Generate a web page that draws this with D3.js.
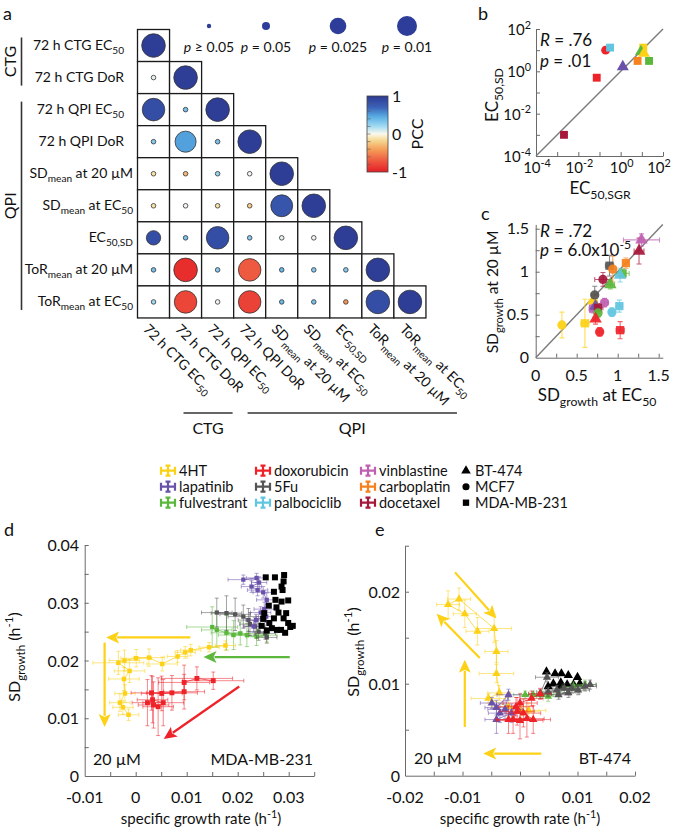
<!DOCTYPE html>
<html><head><meta charset="utf-8">
<script src="https://cdn.jsdelivr.net/npm/d3@7/dist/d3.min.js"></script>
<style>
body{margin:0;background:#fff}
svg{display:block}
text{font-family:Lato,"Open Sans",sans-serif;fill:#111}
</style></head>
<body><svg id="fig" width="675" height="834"></svg>
<script>
// ================= DATA =================
const matrixLabels = [
  [["72 h CTG EC",0],["50",1]],
  [["72 h CTG DoR",0]],
  [["72 h QPI EC",0],["50",1]],
  [["72 h QPI DoR",0]],
  [["SD",0],["mean",1],[" at 20 µM",0]],
  [["SD",0],["mean",1],[" at EC",0],["50",1]],
  [["EC",0],["50,SD",1]],
  [["ToR",0],["mean",1],[" at 20 µM",0]],
  [["ToR",0],["mean",1],[" at EC",0],["50",1]]
];
const matrixGroups = [["CTG",0,1],["QPI",2,8]];
// Pearson correlation coefficients (lower triangle, row by row)
const pccValues = [
  [0.97],
  [0.05, 0.97],
  [0.85, 0.35, 0.97],
  [0.30, 0.50, 0.35, 0.97],
  [-0.12, -0.30, 0.25, 0.02, 0.97],
  [-0.12, 0.02, -0.12, -0.22, 0.80, 0.97],
  [0.85, 0.35, 0.85, 0.30, 0.05, 0.02, 0.97],
  [0.35, -0.92, 0.30, -0.70, 0.40, 0.30, 0.30, 0.97],
  [0.22, -0.80, 0.02, -0.82, 0.40, 0.35, -0.45, 0.85, 0.97]
];
// p-values of each correlation
const pValues = [
  [0.0001],
  [0.4, 0.0001],
  [0.002, 0.3, 0.0001],
  [0.3, 0.005, 0.3, 0.0001],
  [0.4, 0.3, 0.3, 0.5, 0.0001],
  [0.4, 0.5, 0.4, 0.4, 0.003, 0.0001],
  [0.03, 0.3, 0.002, 0.3, 0.5, 0.5, 0.0001],
  [0.3, 0.001, 0.3, 0.002, 0.3, 0.3, 0.3, 0.0001],
  [0.3, 0.002, 0.5, 0.002, 0.3, 0.3, 0.2, 0.001, 0.0001]
];
const sizeLegendP = [0.3, 0.05, 0.025, 0.01];
const sizeLegendLabels = ["≥ 0.05", "= 0.05", "= 0.025", "= 0.01"];
const colorbarTicks = [1, 0, -1];

const drugs = ["4HT","lapatinib","fulvestrant","doxorubicin","5Fu","palbociclib","vinblastine","carboplatin","docetaxel"];
const drugColors = ["#fcd116","#6a52ab","#5cb83c","#ee2229","#555555","#62c6e0","#c060b2","#f5821f","#a5173b"];
const cellLines = ["BT-474","MCF7","MDA-MB-231"];

// panel b : EC50 from SGR vs EC50 from SD
const bDrug = ["doxorubicin","palbociclib","doxorubicin","docetaxel","lapatinib","carboplatin","fulvestrant","4HT","fulvestrant","4HT"];
const bLine = ["MCF7","MDA-MB-231","MDA-MB-231","MDA-MB-231","BT-474","MDA-MB-231","MDA-MB-231","MDA-MB-231","BT-474","BT-474"];
const bEC50SGR = [0.195, 0.316, 0.074, 0.0021, 1.26, 6.3, 21.9, 11.7, 9.1, 12.6];
const bEC50SD  = [10.0, 13.2, 0.50, 0.0010, 1.66, 3.1, 3.1, 13.2, 8.5, 7.1];
const bTicks = [1e-4, 1e-2, 1e0, 1e2];
const bTickExp = ["-4","-2","0","2"];

// panel c : SD growth at EC50 vs at 20 uM
const cDrug = ["4HT","4HT","4HT","5Fu","5Fu","docetaxel","docetaxel","vinblastine","carboplatin","carboplatin","fulvestrant","fulvestrant","palbociclib","palbociclib","palbociclib","vinblastine","vinblastine","lapatinib","docetaxel","fulvestrant","doxorubicin","doxorubicin","doxorubicin"];
const cLine = ["MCF7","MDA-MB-231","BT-474","MCF7","MDA-MB-231","MCF7","BT-474","BT-474","MCF7","MDA-MB-231","MDA-MB-231","BT-474","BT-474","MDA-MB-231","MCF7","MCF7","MDA-MB-231","BT-474","MDA-MB-231","MCF7","BT-474","MCF7","MDA-MB-231"];
const cX    = [0.32,0.60,0.70,0.72,0.90,0.82,1.26,1.29,0.94,1.10,1.06,0.91,1.03,1.02,0.93,0.84,0.70,0.73,0.76,0.76,0.73,0.78,1.03];
const cY    = [0.38,0.40,0.66,0.73,1.07,0.91,1.24,1.37,1.03,1.10,0.98,0.85,0.96,0.60,0.53,0.64,0.57,0.60,0.58,0.52,0.45,0.30,0.32];
const cXerr = [0.03,0.05,0.05,0.04,0.05,0.10,0.06,0.22,0.04,0.03,0.08,0.05,0.06,0.04,0.03,0.04,0.05,0.04,0.06,0.04,0.03,0.03,0.05];
const cYerr = [0.15,0.28,0.10,0.10,0.12,0.08,0.15,0.07,0.15,0.06,0.05,0.05,0.08,0.07,0.05,0.05,0.05,0.05,0.05,0.05,0.06,0.05,0.10];
const cTicks = [0, 0.5, 1, 1.5];

// panel d : MDA-MB-231 trajectories [growth rate, SD growth, x err, y err]
const dControl = [[0.0255,0.0344],[0.0273,0.0344],[0.0291,0.0348],[0.0290,0.0337],[0.0286,0.0328],[0.0288,0.0322],[0.0271,0.0319],[0.0274,0.0305],[0.0286,0.0302],[0.0299,0.0304],[0.0261,0.0295],[0.0276,0.0292],[0.0295,0.0282],[0.0280,0.0283],[0.0252,0.0282],[0.0250,0.0272],[0.0271,0.0273],[0.0290,0.0273],[0.0262,0.0265],[0.0299,0.0265],[0.0247,0.0260],[0.0267,0.0256],[0.0285,0.0253],[0.0303,0.0258],[0.0308,0.0260],[0.0277,0.0253],[0.0293,0.0248],[0.0257,0.0252]];
const dFulvestrant = [[0.0150,0.0258,0.005,0.0035],[0.0159,0.0253,0.003,0.003],[0.0178,0.0248,0.003,0.003],[0.0192,0.0244,0.003,0.0025],[0.0205,0.0247,0.003,0.002],[0.0218,0.0244,0.003,0.002],[0.0237,0.0241,0.002,0.0015],[0.0257,0.0244,0.002,0.0012]];
const d5Fu = [[0.0159,0.0283,0.003,0.0025],[0.0178,0.0282,0.003,0.003],[0.0195,0.0280,0.003,0.0028],[0.0211,0.0276,0.003,0.002],[0.0221,0.0270,0.002,0.002],[0.0224,0.0263,0.002,0.002],[0.0234,0.0259,0.002,0.0015],[0.0241,0.0250,0.002,0.0015],[0.0254,0.0247,0.002,0.001],[0.0257,0.0240,0.002,0.001]];
const dLapatinib = [[0.0211,0.0340,0.003,0.0008],[0.0237,0.0343,0.002,0.0008],[0.0242,0.0335,0.0015,0.001],[0.0227,0.0328,0.002,0.001],[0.0239,0.0322,0.002,0.001],[0.0250,0.0318,0.002,0.001],[0.0257,0.0305,0.002,0.0012],[0.0252,0.0289,0.002,0.0012],[0.0245,0.0283,0.002,0.001],[0.0256,0.0276,0.002,0.001],[0.0236,0.0270,0.002,0.001],[0.0231,0.0259,0.002,0.001]];
const d4HT = [[0.0176,0.0226,0.002,0.0008],[0.0144,0.0223,0.002,0.0008],[0.0108,0.0218,0.002,0.001],[0.0097,0.0214,0.002,0.001],[0.0082,0.0207,0.002,0.001],[0.0052,0.0194,0.003,0.0012],[0.0026,0.0205,0.003,0.0015],[0.0001,0.0204,0.003,0.0015],[-0.0022,0.0200,0.003,0.0018],[-0.0034,0.0196,0.005,0.002],[-0.0012,0.0182,0.003,0.002],[-0.0023,0.0168,0.003,0.002],[-0.0021,0.0143,0.002,0.0015],[-0.0031,0.0127,0.002,0.0015],[-0.0025,0.0119,0.002,0.0012],[-0.0014,0.0106,0.002,0.0010]];
const dDoxorubicin = [[0.0152,0.0165,0.006,0.0015],[0.0120,0.0169,0.007,0.002],[0.0095,0.0162,0.005,0.003],[0.0095,0.0146,0.004,0.003],[0.0071,0.0144,0.005,0.003],[0.0051,0.0143,0.004,0.003],[0.0031,0.0144,0.004,0.003],[0.0033,0.0132,0.003,0.004],[0.0054,0.0127,0.004,0.004],[0.0044,0.0120,0.003,0.005],[0.0035,0.0123,0.003,0.004],[0.0023,0.0127,0.003,0.004]];
const dArrows = [["4HT",0.0107,0.0240,-0.0058,0.0240],["4HT",-0.0061,0.0231,-0.0061,0.0085],["fulvestrant",0.0302,0.0206,0.0133,0.0206],["doxorubicin",0.0203,0.0155,0.0055,0.0064]];
const dXTicks = [-0.01, 0, 0.01, 0.02, 0.03];
const dYTicks = [0, 0.01, 0.02, 0.03, 0.04];

// panel e : BT-474 trajectories
const eControl = [[0.0046,0.0113],[0.0061,0.0111],[0.0072,0.0111],[0.0084,0.0109],[0.0100,0.0107],[0.0058,0.0100],[0.0071,0.0101],[0.0082,0.0099],[0.0093,0.0099],[0.0104,0.0100],[0.0049,0.0097],[0.0070,0.0097]];
const e5Fu = [[0.0047,0.0107,0.002,0.0005],[0.0035,0.0089,0.002,0.0005],[0.0049,0.0091,0.002,0.0005],[0.0064,0.0093,0.002,0.0005],[0.0077,0.0095,0.002,0.0005],[0.0090,0.0095,0.002,0.0005],[0.0101,0.0093,0.002,0.0005],[0.0113,0.0097,0.002,0.0005],[0.0122,0.0099,0.001,0.0005],[0.0067,0.0088,0.002,0.0005],[0.0084,0.0090,0.002,0.0005]];
const eFulvestrant = [[0.0009,0.0088,0.002,0.0004],[0.0023,0.0088,0.002,0.0004],[0.0038,0.0088,0.002,0.0004],[0.0049,0.0086,0.002,0.0005],[0.0093,0.0097,0.002,0.0005],[0.0113,0.0099,0.002,0.0005]];
const eLapatinib = [[-0.0049,0.0079,0.002,0.0006],[-0.0041,0.0074,0.002,0.0008],[-0.0020,0.0088,0.002,0.0006],[-0.0026,0.0072,0.003,0.001],[-0.0035,0.0068,0.002,0.001],[-0.0041,0.0061,0.002,0.0015],[-0.0015,0.0068,0.002,0.001]];
const eDoxorubicin = [[0.0035,0.0089,0.002,0.0006],[0.0020,0.0084,0.002,0.0008],[0.0000,0.0079,0.003,0.001],[-0.0005,0.0070,0.003,0.0015],[-0.0012,0.0061,0.003,0.0015],[0.0000,0.0060,0.004,0.002],[0.0012,0.0062,0.003,0.002],[-0.0020,0.0061,0.002,0.0015],[0.0023,0.0061,0.003,0.0015],[0.0006,0.0068,0.003,0.0015],[-0.0007,0.0075,0.003,0.001]];
const e4HT = [[0.0015,0.0071,0.003,0.0008],[0.0003,0.0070,0.003,0.0008],[-0.0020,0.0075,0.003,0.001],[-0.0055,0.0084,0.003,0.0005],[-0.0036,0.0090,0.002,0.0008],[-0.0041,0.0111,0.003,0.001],[-0.0041,0.0135,0.002,0.0012],[-0.0045,0.0160,0.003,0.0015],[-0.0106,0.0192,0.002,0.0012],[-0.0125,0.0186,0.002,0.0015],[-0.0096,0.0176,0.002,0.0015],[-0.0074,0.0157,0.002,0.0015]];
const eArrows = [["4HT",-0.0113,0.0221,-0.0041,0.0171],["4HT",-0.0070,0.0128,-0.0145,0.0176],["4HT",-0.0096,0.0053,-0.0096,0.0126],["4HT",0.0037,0.0024,-0.0064,0.0024]];
const eXTicks = [-0.02, -0.01, 0, 0.01, 0.02];
const eYTicks = [0, 0.01, 0.02];

// ================= DRAWING =================
const svg = d3.select("#fig");
const drugColor = d3.scaleOrdinal(drugs, drugColors);
const shapeOf = d3.scaleOrdinal(cellLines, [d3.symbolTriangle, d3.symbolCircle, d3.symbolSquare]);
const AX = "#6a6a6a";

function rich(t, parts, fs){
  let cur = 0;
  parts.forEach(([s,k]) => {
    const target = k===1 ? 0.32*fs : k===2 ? -0.42*fs : 0;
    const ts = t.append("tspan").text(s).attr("dy", target-cur);
    if (k===1||k===2) ts.attr("font-size", fs*0.72);
    if (k===3) ts.attr("font-style","italic");
    cur = target;
  });
  return t;
}
function label(g, x, y, parts, fs, anchor, rot){
  const t = g.append("text").attr("font-size", fs).attr("text-anchor", anchor||"start")
    .attr("transform", `translate(${x},${y})` + (rot ? ` rotate(${rot})` : ""));
  return rich(t, parts, fs);
}
function panelLetter(x, y, s){
  svg.append("text").attr("x", x).attr("y", y).attr("font-size", 18).text(s);
}

// ---------- panel a ----------
panelLetter(3, 20, "a");
const cs = 32.05, m0x = 137.5, m0y = 29.5;
const band = d3.scaleBand().domain(d3.range(9)).range([0, 9*cs]);
const mx = j => m0x + band(j), my = i => m0y + band(i);
const pcc = d3.scaleLinear()
  .domain([-1,-0.7,-0.4,-0.15,0,0.2,0.45,0.7,1])
  .range(["#e41e26","#ee5a40","#f5a05a","#f6dc95","#fbf8ec","#a3daf2","#58b0e5","#3b62b7","#2d3a92"]);
const rSig = d3.scaleLog().domain([0.05,0.025,0.01,0.001]).range([4,8.3,10,11.8]).clamp(true);
const rOf = p => p > 0.05 ? 2.3 : rSig(p);

const ga = svg.append("g");
for (let i=0;i<9;i++){
  for (let j=0;j<=i;j++){
    ga.append("rect").attr("x", mx(j)).attr("y", my(i)).attr("width", cs).attr("height", cs)
      .attr("fill","#fff").attr("stroke","#1a1a1a").attr("stroke-width",1.3);
  }
}
for (let i=0;i<9;i++){
  for (let j=0;j<=i;j++){
    ga.append("circle").attr("cx", mx(j)+cs/2).attr("cy", my(i)+cs/2)
      .attr("r", rOf(pValues[i][j])).attr("fill", pcc(pccValues[i][j]))
      .attr("stroke","#333").attr("stroke-width", 0.8);
  }
}
matrixLabels.forEach((parts,i) => {
  label(ga, i<4 ? 124 : 133, my(i)+cs/2+4, parts, 14, "end");
});
matrixLabels.forEach((parts,j) => {
  label(ga, mx(j)+cs/2-11, my(8)+cs+12, parts, 14, "start", 45);
});
matrixGroups.forEach(([name,a,b]) => {
  ga.append("line").attr("x1",21.5).attr("x2",21.5).attr("y1",my(a)+8).attr("y2",my(b)+cs-8)
    .attr("stroke","#333").attr("stroke-width",1.6);
  ga.append("text").attr("font-size",16).attr("text-anchor","middle")
    .attr("transform",`translate(16,${(my(a)+my(b)+cs)/2}) rotate(-90)`).text(name);
});
matrixGroups.forEach(([name,a,b]) => {
  const x1 = mx(a)+46, x2 = mx(b)+cs+31;
  ga.append("line").attr("x1",x1).attr("x2",x2).attr("y1",413).attr("y2",413)
    .attr("stroke","#333").attr("stroke-width",1.6);
  ga.append("text").attr("font-size",16).attr("text-anchor","middle")
    .attr("x",(x1+x2)/2).attr("y",434).text(name);
});
const sizeLegX = [209, 266, 338, 407];
sizeLegendP.forEach((p,k) => {
  ga.append("circle").attr("cx",sizeLegX[k]).attr("cy",26).attr("r", p>0.05?2.2:rSig(p)).attr("fill","#2e3d9a");
  label(ga, sizeLegX[k], 52, [["p",3],[" "+sizeLegendLabels[k],0]], 14, "middle");
});
const defs = svg.append("defs");
const grad = defs.append("linearGradient").attr("id","pccg").attr("x1",0).attr("x2",0).attr("y1",0).attr("y2",1);
d3.range(0,1.0001,0.05).forEach(t => grad.append("stop").attr("offset",t).attr("stop-color", pcc(1-2*t)));
const cbY = d3.scaleLinear().domain([1,-1]).range([96,172]);
ga.append("rect").attr("x",367).attr("y",96).attr("width",21).attr("height",76)
  .attr("fill","url(#pccg)").attr("stroke","#444").attr("stroke-width",0.8);
d3.range(-0.8,0.81,0.2).forEach(v => ga.append("line").attr("x1",367).attr("x2",370.5)
  .attr("y1",cbY(v)).attr("y2",cbY(v)).attr("stroke","#555").attr("stroke-width",0.6));
colorbarTicks.forEach(v => ga.append("text").attr("x",392).attr("y",cbY(v)+5.5).attr("font-size",16).text(v));
ga.append("text").attr("font-size",16).attr("text-anchor","middle")
  .attr("transform","translate(423,134) rotate(-90)").text("PCC");

// ---------- shared helpers ----------
function axesInward(g, x, y, xt, yt){
  g.append("g").attr("transform",`translate(0,${y.range()[0]})`)
    .call(d3.axisBottom(x).tickValues(xt).tickSizeInner(-4).tickSizeOuter(0).tickFormat(""))
    .call(s => { s.select(".domain").attr("stroke",AX); s.selectAll("line").attr("stroke",AX); });
  g.append("g").attr("transform",`translate(${x.range()[0]},0)`)
    .call(d3.axisLeft(y).tickValues(yt).tickSizeInner(-4).tickSizeOuter(0).tickFormat(""))
    .call(s => { s.select(".domain").attr("stroke",AX); s.selectAll("line").attr("stroke",AX); });
}
function errorBars(g, x, y, pts, color, cap, op, sw){
  pts.forEach(p => {
    const cx = x(p[0]), cy = y(p[1]);
    if (p[2]) {
      const a = x(p[0]-p[2]), b = x(p[0]+p[2]);
      g.append("path").attr("d",`M${a},${cy}H${b}M${a},${cy-cap}V${cy+cap}M${b},${cy-cap}V${cy+cap}`)
        .attr("stroke",color).attr("stroke-width",sw).attr("fill","none").attr("opacity",op);
    }
    if (p[3]) {
      const a = y(p[1]-p[3]), b = y(p[1]+p[3]);
      g.append("path").attr("d",`M${cx},${a}V${b}M${cx-cap},${a}H${cx+cap}M${cx-cap},${b}H${cx+cap}`)
        .attr("stroke",color).attr("stroke-width",sw).attr("fill","none").attr("opacity",op);
    }
  });
}
function arrow(g, x, y, a, color){
  const x1=x(a[1]), y1=y(a[2]), x2=x(a[3]), y2=y(a[4]);
  const ang = Math.atan2(y2-y1, x2-x1), L=13, Wd=6;
  const bx = x2 - L*Math.cos(ang), by = y2 - L*Math.sin(ang);
  g.append("line").attr("x1",x1).attr("y1",y1).attr("x2",bx+2*Math.cos(ang)).attr("y2",by+2*Math.sin(ang))
    .attr("stroke",color).attr("stroke-width",2.2);
  const px = -Math.sin(ang)*Wd, py = Math.cos(ang)*Wd;
  g.append("path").attr("d",`M${x2},${y2}L${bx+px},${by+py}L${bx+3*Math.cos(ang)},${by+3*Math.sin(ang)}L${bx-px},${by-py}Z`)
    .attr("fill",color);
}
function trajectory(g, x, y, pts, color, shape, size, opts){
  if (opts.err) errorBars(g, x, y, pts, color, 2, 0.6, 0.9);
  if (opts.line) g.append("path").attr("d", d3.line().x(p=>x(p[0])).y(p=>y(p[1]))(pts))
    .attr("fill","none").attr("stroke",color).attr("stroke-width",0.9).attr("opacity",0.8);
  g.selectAll(null).data(pts).enter().append("path")
    .attr("d", d3.symbol(shape, size))
    .attr("transform", p => `translate(${x(p[0])},${y(p[1])})`).attr("fill", color);
}

// ---------- panel b ----------
panelLetter(478, 20, "b");
const gb = svg.append("g");
const bx = d3.scaleLog().domain([1e-4,1e2]).range([536,663]);
const by = d3.scaleLog().domain([1e-4,1e2]).range([156,29]);
axesInward(gb, bx, by, d3.range(-4,3).map(e=>Math.pow(10,e)), d3.range(-4,3).map(e=>Math.pow(10,e)));
gb.append("line").attr("x1",bx(1e-4)).attr("y1",by(1e-4)).attr("x2",bx(1e2)).attr("y2",by(1e2))
  .attr("stroke","#7a7a7a").attr("stroke-width",1.4);
bTicks.forEach((v,k) => {
  label(gb, 531, by(v)+6, [["10",0],[bTickExp[k],2]], 15, "end");
  label(gb, Math.min(bx(v)+1, 659), 173, [["10",0],[bTickExp[k],2]], 15, "middle");
});
bEC50SGR.forEach((v,k) => {
  gb.append("path").attr("d", d3.symbol(shapeOf(bLine[k]), 62))
    .attr("transform",`translate(${bx(v)},${by(bEC50SD[k])})`).attr("fill", drugColor(bDrug[k]));
});
label(gb, 540, 46, [["R",3],[" = .76",0]], 17, "start");
label(gb, 540, 67, [["p",3],[" = .01",0]], 17, "start");
label(gb, 600, 194, [["EC",0],["50,SGR",1]], 17, "middle");
label(gb, 498, 95, [["EC",0],["50,SD",1]], 17, "middle", -90);

// ---------- panel c ----------
panelLetter(481, 220, "c");
const gc = svg.append("g");
const cx = d3.scaleLinear().domain([0,1.55]).range([535.7,662.8]);
const cy = d3.scaleLinear().domain([0,1.55]).range([357.7,224.4]);
axesInward(gc, cx, cy, [0.25,0.5,0.75,1,1.25,1.5], [0.25,0.5,0.75,1,1.25,1.5]);
gc.append("line").attr("x1",cx(0)).attr("y1",cy(0)).attr("x2",cx(1.55)).attr("y2",cy(1.55))
  .attr("stroke","#7a7a7a").attr("stroke-width",1.4);
cTicks.forEach(v => {
  gc.append("text").attr("x",529).attr("y",cy(v)+5.5).attr("text-anchor","end").attr("font-size",16).text(v);
  gc.append("text").attr("x",cx(v)).attr("y",381).attr("text-anchor","middle").attr("font-size",16).text(v);
});
cX.forEach((v,k) => {
  errorBars(gc, cx, cy, [[v, cY[k], cXerr[k], cYerr[k]]], drugColor(cDrug[k]), 2.5, 0.7, 1.1);
});
cX.forEach((v,k) => {
  gc.append("path").attr("d", d3.symbol(shapeOf(cLine[k]), 68))
    .attr("transform",`translate(${cx(v)},${cy(cY[k])})`).attr("fill", drugColor(cDrug[k])).attr("opacity",0.92);
});
label(gc, 540, 237, [["R",3],[" = .72",0]], 17, "start");
label(gc, 540, 256, [["p",3],[" = 6.0x10",0],["-5",2]], 17, "start");
label(gc, 597, 401, [["SD",0],["growth",1],[" at EC",0],["50",1]], 17, "middle");
label(gc, 498, 292, [["SD",0],["growth",1],[" at 20 µM",0]], 15.5, "middle", -90);

// ---------- legend ----------
const gl = svg.append("g");
drugs.forEach((d,i) => {
  const lx = [160,255,360][Math.floor(i/3)], ly = 470.7 + (i%3)*16;
  const c = drugColor(d);
  gl.append("path").attr("d",`M${lx},${ly}H${lx+16}M${lx+1},${ly-4}V${ly+4}M${lx+15},${ly-4}V${ly+4}M${lx+8},${ly-5}V${ly+5}M${lx+5.5},${ly-5}H${lx+10.5}M${lx+5.5},${ly+5}H${lx+10.5}`)
    .attr("stroke",c).attr("stroke-width",2.2).attr("fill","none");
  gl.append("text").attr("x",lx+19).attr("y",ly+5).attr("font-size",14.5).text(d);
});
cellLines.forEach((c,i) => {
  const ly = 470.7 + i*16;
  gl.append("path").attr("d", d3.symbol(shapeOf(c), 40)).attr("transform",`translate(466,${ly})`).attr("fill","#000");
  gl.append("text").attr("x",475).attr("y",ly+5).attr("font-size",14.5).text(c);
});

// ---------- panel d ----------
panelLetter(4, 536, "d");
const gd = svg.append("g");
const dx = d3.scaleLinear().domain([-0.01,0.035]).range([84.7,314.2]);
const dy = d3.scaleLinear().domain([0,0.04]).range([776,545]);
axesInward(gd, dx, dy, d3.range(-0.005,0.0351,0.005), d3.range(0.005,0.0401,0.005));
dXTicks.forEach(v => gd.append("text").attr("x",dx(v)).attr("y",803).attr("text-anchor","middle").attr("font-size",16).text(v));
dYTicks.forEach(v => gd.append("text").attr("x",79).attr("y",dy(v)+6).attr("text-anchor","end").attr("font-size",16).text(v));
trajectory(gd, dx, dy, dFulvestrant, drugColor("fulvestrant"), d3.symbolSquare, 18, {err:true,line:true});
trajectory(gd, dx, dy, d5Fu, drugColor("5Fu"), d3.symbolSquare, 18, {err:true,line:true});
trajectory(gd, dx, dy, dLapatinib, drugColor("lapatinib"), d3.symbolSquare, 18, {err:true,line:true});
trajectory(gd, dx, dy, dControl, "#000", d3.symbolSquare, 36, {});
trajectory(gd, dx, dy, d4HT, drugColor("4HT"), d3.symbolSquare, 20, {err:true,line:true});
trajectory(gd, dx, dy, dDoxorubicin, drugColor("doxorubicin"), d3.symbolSquare, 24, {err:true,line:true});
dArrows.forEach(a => arrow(gd, dx, dy, a, drugColor(a[0])));
gd.append("text").attr("x",93).attr("y",765).attr("font-size",16).text("20 µM");
gd.append("text").attr("x",313).attr("y",765).attr("text-anchor","end").attr("font-size",16).text("MDA-MB-231");
label(gd, 201, 824, [["specific growth rate (h",0],["-1",2],[")",0]], 15, "middle");
label(gd, 20, 657, [["SD",0],["growth",1],[" (h",0],["-1",2],[")",0]], 16, "middle", -90);

// ---------- panel e ----------
panelLetter(375, 536, "e");
const ge = svg.append("g");
const ex = d3.scaleLinear().domain([-0.02,0.02]).range([405,635]);
const ey = d3.scaleLinear().domain([0,0.025]).range([775.7,545.7]);
axesInward(ge, ex, ey, d3.range(-0.015,0.0201,0.005), d3.range(0.005,0.0251,0.005));
eXTicks.forEach(v => ge.append("text").attr("x",ex(v)).attr("y",803).attr("text-anchor","middle").attr("font-size",16).text(v));
eYTicks.forEach(v => ge.append("text").attr("x",400).attr("y",ey(v)+6).attr("text-anchor","end").attr("font-size",16).text(v));
trajectory(ge, ex, ey, eControl, "#000", d3.symbolTriangle, 38, {});
trajectory(ge, ex, ey, eFulvestrant, drugColor("fulvestrant"), d3.symbolTriangle, 26, {err:true,line:true});
trajectory(ge, ex, ey, e5Fu, drugColor("5Fu"), d3.symbolTriangle, 30, {err:true,line:true});
trajectory(ge, ex, ey, e4HT, drugColor("4HT"), d3.symbolTriangle, 30, {err:true,line:true});
trajectory(ge, ex, ey, eLapatinib, drugColor("lapatinib"), d3.symbolTriangle, 30, {err:true,line:true});
trajectory(ge, ex, ey, eDoxorubicin, drugColor("doxorubicin"), d3.symbolTriangle, 30, {err:true,line:true});
eArrows.forEach(a => arrow(ge, ex, ey, a, drugColor(a[0])));
ge.append("text").attr("x",414).attr("y",764).attr("font-size",16).text("20 µM");
ge.append("text").attr("x",631).attr("y",764).attr("text-anchor","end").attr("font-size",16).text("BT-474");
label(ge, 520, 824, [["specific growth rate (h",0],["-1",2],[")",0]], 15, "middle");
label(ge, 359, 652, [["SD",0],["growth",1],[" (h",0],["-1",2],[")",0]], 16, "middle", -90);
</script></body></html>
